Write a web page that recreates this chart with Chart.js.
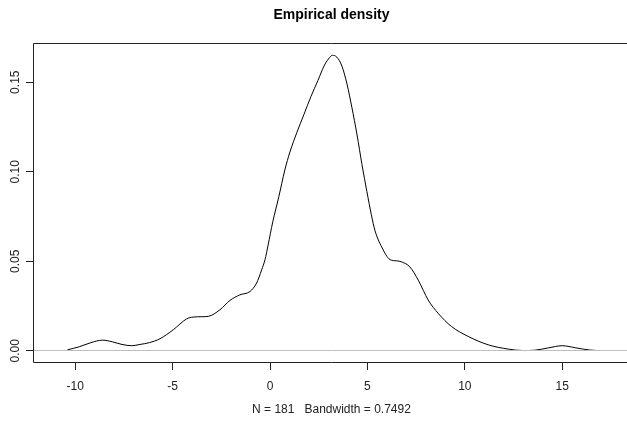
<!DOCTYPE html>
<html>
<head>
<meta charset="utf-8">
<script src="https://cdn.jsdelivr.net/npm/chart.js@4.4.1/dist/chart.umd.min.js"></script>
<style>
  html, body { margin: 0; padding: 0; background: #fff; overflow: hidden; }
  #wrap { width: 640px; height: 422px; position: relative; }
</style>
</head>
<body>
<div id="wrap"><canvas id="c"></canvas></div>
<script>
// ---- data ----
const titleText = "Empirical density";
const xLabelText = "N = 181   Bandwidth = 0.7492";
const densityX = [-10.4, -9.8, -9.2, -8.6, -8.1, -7.6, -7.1, -6.68, -6.2, -5.65, -4.97, -4.28, -3.94, -3.5, -3.17,
  -2.57, -2.06, -1.55, -1.03, -0.69, -0.43, -0.26, -0.1, 0.14, 0.45, 0.76, 1.02, 1.38, 1.74, 2.1, 2.46, 2.77,
  3.0, 3.2, 3.43, 3.69, 3.95, 4.2, 4.46, 4.72, 4.97, 5.2, 5.39, 5.73, 6.16, 6.5, 6.76, 7.18, 7.61, 8.12, 8.63,
  9.32, 10.17, 11.2, 12.23, 13.0, 13.6, 14.3, 15.0, 15.7, 16.4, 16.8];
const densityY = [0.0005, 0.0022, 0.0045, 0.0059, 0.005, 0.0035, 0.0028, 0.0035, 0.0045, 0.0067, 0.0117, 0.0178, 0.0188, 0.019, 0.0192,
  0.0229, 0.0281, 0.0312, 0.0331, 0.0378, 0.0452, 0.0508, 0.059, 0.072, 0.086, 0.101, 0.111, 0.122, 0.132, 0.142, 0.151, 0.159,
  0.163, 0.165, 0.164, 0.159, 0.149, 0.136, 0.121, 0.104, 0.089, 0.076, 0.067, 0.058, 0.0509, 0.0502, 0.0496, 0.0468, 0.0394, 0.0283, 0.0209,
  0.0135, 0.008, 0.0033, 0.0009, 0.0001, 0.0003, 0.0016, 0.0028, 0.0016, 0.0004, 0.0001];
const xTickValues = [-10, -5, 0, 5, 10, 15];
const yTickValues = [0, 0.05, 0.10, 0.15];
const yTickLabels = ["0.00", "0.05", "0.10", "0.15"];
const xRange = [-12.17, 18.48];
const yRange = [-0.00686, 0.1719];

const FONT = "'Liberation Sans', Arial, Helvetica, sans-serif";
const INK = "#222";

const rPlot = {
  id: 'rPlot',
  afterDatasetsDraw(chart) {
    const ctx = chart.ctx;
    const a = chart.chartArea;
    const ys = chart.scales.y;
    ctx.save();
    // zero reference line (gray, drawn over the curve)
    const y0 = Math.floor(ys.getPixelForValue(0)) + 0.5;
    ctx.strokeStyle = '#bebebe';
    ctx.lineWidth = 1;
    ctx.beginPath();
    ctx.moveTo(a.left, y0);
    ctx.lineTo(a.right, y0);
    ctx.stroke();
    // box
    ctx.strokeStyle = INK;
    ctx.beginPath();
    ctx.rect(a.left + 0.5, a.top + 0.5, a.right - a.left - 1, a.bottom - a.top - 1);
    ctx.stroke();
    ctx.restore();
  },
  afterDraw(chart) {
    const ctx = chart.ctx;
    const a = chart.chartArea;
    const ys = chart.scales.y;
    const cx = (a.left + a.right) / 2;
    ctx.save();
    ctx.fillStyle = '#000';
    ctx.textAlign = 'center';
    ctx.textBaseline = 'alphabetic';
    ctx.font = "bold 14px " + FONT;
    ctx.fillText(titleText, cx, 19);
    ctx.fillStyle = INK;
    ctx.font = "12px " + FONT;
    ctx.fillText(xLabelText, cx, 413);
    // rotated y tick labels
    yTickValues.forEach((v, i) => {
      const py = ys.getPixelForValue(v);
      ctx.save();
      ctx.translate(18.5, py);
      ctx.rotate(-Math.PI / 2);
      ctx.fillText(yTickLabels[i], 0, 0);
      ctx.restore();
    });
    ctx.restore();
  }
};

new Chart(document.getElementById('c'), {
  type: 'scatter',
  data: {
    datasets: [{
      data: densityX.map((x, i) => ({ x: x, y: densityY[i] })),
      showLine: true,
      borderColor: '#000',
      borderWidth: 1,
      pointRadius: 0,
      pointHoverRadius: 0,
      cubicInterpolationMode: 'monotone',
      fill: false
    }]
  },
  options: {
    responsive: true,
    maintainAspectRatio: false,
    devicePixelRatio: 1,
    animation: false,
    events: [],
    layout: { padding: { top: 43, right: 10, left: 0, bottom: 0 } },
    plugins: { legend: { display: false }, tooltip: { enabled: false }, title: { display: false } },
    scales: {
      x: {
        type: 'linear',
        min: xRange[0],
        max: xRange[1],
        afterBuildTicks: (s) => { s.ticks = xTickValues.map(v => ({ value: v })); },
        afterFit: (s) => { s.height = 59; },
        grid: { drawOnChartArea: false, drawTicks: true, tickLength: 7, color: INK, lineWidth: 1 },
        border: { display: false },
        ticks: { color: INK, font: { size: 12, family: FONT }, padding: 9, maxRotation: 0, autoSkip: false,
                 callback: (v) => String(v) }
      },
      y: {
        type: 'linear',
        min: yRange[0],
        max: yRange[1],
        afterBuildTicks: (s) => { s.ticks = yTickValues.map(v => ({ value: v })); },
        afterFit: (s) => { s.width = 33; },
        grid: { drawOnChartArea: false, drawTicks: true, tickLength: 7, color: INK, lineWidth: 1 },
        border: { display: false },
        ticks: { display: false }
      }
    }
  },
  plugins: [rPlot]
});
</script>
</body>
</html>
